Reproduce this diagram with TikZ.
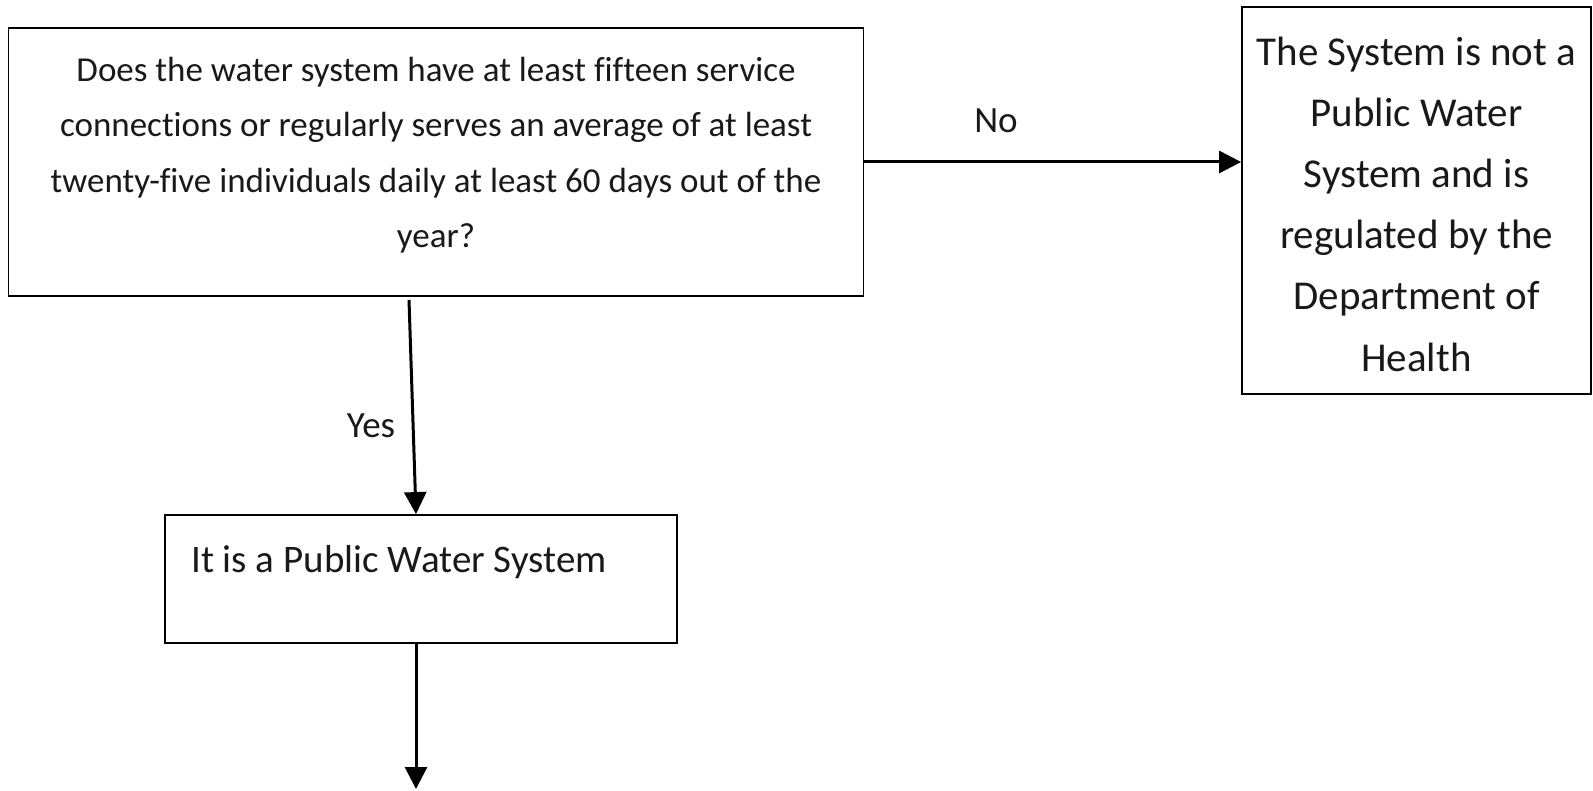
\documentclass[tikz,border=0pt]{standalone}
\usepackage{fontspec}
\setmainfont[Ligatures=NoCommon]{Carlito}
\usetikzlibrary{arrows.meta}
\begin{document}
\begin{tikzpicture}[x=1pt,y=-1pt,
  box/.style={draw=black, line width=1.8pt, inner sep=0pt, rectangle},
  txt/.style={inner sep=0pt, align=center, text=black!90},
  lbl/.style={inner sep=0pt, anchor=base, text=black!90, font=\fontsize{37}{44}\selectfont},
  arr/.style={line width=3pt, -{Triangle[length=22pt,width=22pt]}}]
\useasboundingbox (0,0) rectangle (1593,791);
% boxes
\node[box, minimum width=855pt, minimum height=268pt] (q) at (436,162) {};
\node[txt, font=\fontsize{35}{55.5}\selectfont] (qt) at (436,155)
  {Does the water system have at least fifteen service\\
   connections or regularly serves an average of at least\\
   twenty-five individuals daily at least 60 days out of the\\
   year?};
\node[box, minimum width=349pt, minimum height=387pt] (n) at (1416.5,200.5) {};
\node[txt, font=\fontsize{41}{61.2}\selectfont] (nt) at (1416.5,204)
  {The System is not a\\ Public Water\\ System and is\\ regulated by the\\ Department of\\ Health};
\node[box, minimum width=512pt, minimum height=128pt] (p) at (421,579) {};
\node[txt, anchor=base west, font=\fontsize{39}{44}\selectfont] (pt) at (191,572) {It is a Public Water System};
% connectors
\coordinate (end) at (416,789);
\draw[arr] (q.east) -- (q.east -| n.west);
\draw[arr] ([xshift=-27pt,yshift=-3pt]q.south) -- ([xshift=-5pt]p.north);
\draw[arr] ([xshift=-5pt]p.south) -- (end);
% labels
\node[lbl] (no) at (996,133) {No};
\node[lbl] (yes) at (371,437) {Yes};
\end{tikzpicture}
\end{document}
